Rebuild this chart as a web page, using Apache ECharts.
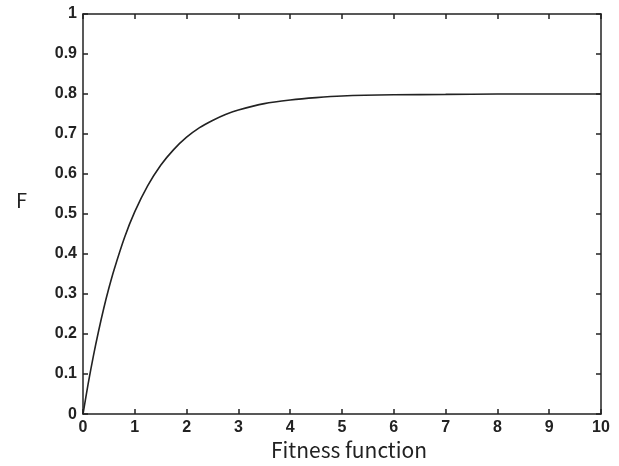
<!DOCTYPE html>
<html>
<head>
<meta charset="utf-8">
<script src="https://cdn.jsdelivr.net/npm/echarts@6/dist/echarts.min.js"></script>
<style>
  html, body { margin: 0; padding: 0; background: #fff; }
  #chart { width: 619px; height: 466px; }
</style>
</head>
<body>
<div id="chart"></div>
<script>
// Fitness curve samples (x, F)
const xValues = [0, 0.1, 0.2, 0.3, 0.4, 0.5, 0.6, 0.8, 1, 1.25, 1.5, 1.75, 2, 2.25, 2.5, 2.75, 3, 3.5, 4, 4.5, 5, 6, 7, 8, 9, 10];
const fValues = [0, 0.076, 0.145, 0.207, 0.264, 0.315, 0.361, 0.441, 0.506, 0.571, 0.622, 0.661, 0.692, 0.716, 0.734, 0.749, 0.760, 0.776, 0.785, 0.791, 0.795, 0.798, 0.799, 0.800, 0.800, 0.800];

const xTicks = [0, 1, 2, 3, 4, 5, 6, 7, 8, 9, 10];
const yTicks = ['0', '0.1', '0.2', '0.3', '0.4', '0.5', '0.6', '0.7', '0.8', '0.9', '1'];

const ink = '#222';
const titleFont = 'Noto Sans CJK SC, Noto Sans, sans-serif';
const tickFont = { color: ink, fontSize: 16, fontWeight: 'bold', fontFamily: 'Liberation Sans, Arial, sans-serif' };

const chart = echarts.init(document.getElementById('chart'), null, { renderer: 'canvas' });

const baseAxisLine = { show: true, onZero: false, lineStyle: { color: ink, width: 1.5 } };
const baseTick = { show: true, inside: true, length: 5, lineStyle: { color: ink, width: 1.5 } };

chart.setOption({
  animation: false,
  grid: { left: 83, right: 18, top: 14, bottom: 50, containLabel: false },
  graphic: [{
    type: 'text', left: 16, top: 190,
    style: { text: 'F', fill: ink, font: '20px ' + titleFont }
  }],
  xAxis: [
    {
      type: 'value', min: 0, max: 10, interval: 1, position: 'bottom',
      axisLine: baseAxisLine, axisTick: baseTick, splitLine: { show: false },
      axisLabel: Object.assign({ margin: 5, formatter: v => xTicks.includes(v) ? String(v) : '' }, tickFont),
      name: 'Fitness function', nameLocation: 'middle', nameGap: 24,
      nameTextStyle: { color: ink, fontSize: 21, fontFamily: titleFont, padding: [0, 0, 0, 14] }
    },
    {
      type: 'value', min: 0, max: 10, interval: 1, position: 'top',
      axisLine: baseAxisLine, axisTick: baseTick, axisLabel: { show: false }, splitLine: { show: false }
    }
  ],
  yAxis: [
    {
      type: 'value', min: 0, max: 1, interval: 0.1, position: 'left',
      axisLine: baseAxisLine, axisTick: baseTick, splitLine: { show: false },
      axisLabel: Object.assign({ margin: 6, formatter: v => yTicks[Math.round(v * 10)] }, tickFont)
    },
    {
      type: 'value', min: 0, max: 1, interval: 0.1, position: 'right',
      axisLine: baseAxisLine, axisTick: baseTick, axisLabel: { show: false }, splitLine: { show: false }
    }
  ],
  series: [{
    type: 'line',
    data: xValues.map((x, i) => [x, fValues[i]]),
    smooth: 0.3,
    showSymbol: false,
    lineStyle: { color: ink, width: 1.6 }
  }]
});
</script>
</body>
</html>
